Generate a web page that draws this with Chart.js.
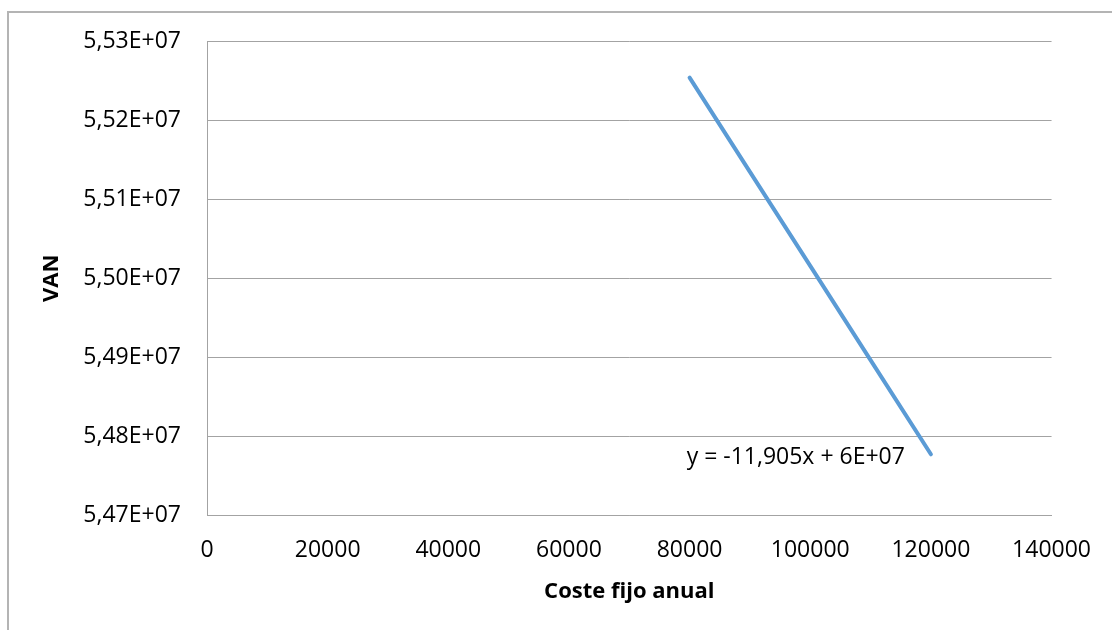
<!DOCTYPE html>
<html>
<head>
<meta charset="utf-8">
<script src="https://cdn.jsdelivr.net/npm/chart.js@4/dist/chart.umd.min.js"></script>
<style>
  html, body { margin: 0; padding: 0; background: #fff; }
  #wrap { position: relative; width: 1112px; height: 630px; overflow: hidden; }
  #frame { position: absolute; left: 7px; top: 11px; right: -10px; bottom: -10px;
           border-top: 2px solid #b4b4b4; border-left: 2px solid #b4b4b4; }
  canvas { position: absolute; left: 0; top: 0; }
</style>
</head>
<body>
<div id="wrap">
  <div id="frame"></div>
  <canvas id="chart-van" width="1112" height="630"></canvas>
</div>
<script>
/* VAN vs coste fijo anual — scatter with straight line + trend label */

// ─── DATA ─────────────────────────────────────────────
var costeFijo = [80000, 90000, 100000, 110000, 120000];
var van = [55253600, 55134600, 55015600, 54896500, 54777400];
var xTicks = [0, 20000, 40000, 60000, 80000, 100000, 120000, 140000];
var yTicks = [54700000, 54800000, 54900000, 55000000, 55100000, 55200000, 55300000];
var trendLabel = 'y = -11,905x + 6E+07';
var trendAnchor = [97600, 54774000];   // where Excel put the equation

var FONT = "'Open Sans', sans-serif";
var GRID = '#a3a3a3';

// y ticks in Excel's Spanish scientific format: 5,53E+07
function sci(v) {
  var m = Math.round(v / 1e5) / 100;
  return m.toFixed(2).replace('.', ',') + 'E+07';
}

// draws the trendline equation anchored to data coordinates
var trendLabelPlugin = {
  id: 'trendLabel',
  afterDatasetsDraw: function(chart) {
    var ctx = chart.ctx;
    var x = chart.scales.x.getPixelForValue(trendAnchor[0]);
    var y = chart.scales.y.getPixelForValue(trendAnchor[1]);
    ctx.save();
    ctx.font = '23px ' + FONT;
    ctx.fillStyle = '#000';
    ctx.textAlign = 'center';
    ctx.textBaseline = 'middle';
    ctx.fillText(trendLabel, x, y);
    ctx.restore();
  }
};

new Chart(document.getElementById('chart-van'), {
  type: 'scatter',
  data: {
    datasets: [{
      data: costeFijo.map(function(c, i) { return { x: c, y: van[i] }; }),
      showLine: true,
      borderColor: '#5b9bd5',
      borderWidth: 4,
      borderCapStyle: 'round',
      pointRadius: 0,
      pointHoverRadius: 0
    }]
  },
  options: {
    responsive: false,
    animation: false,
    layout: { padding: { left: 0, top: 41, right: 57, bottom: 0 } },
    plugins: { legend: { display: false }, tooltip: { enabled: false } },
    scales: {
      x: {
        type: 'linear',
        min: 0,
        max: 140000,
        afterBuildTicks: function(s) { s.ticks = xTicks.map(function(v) { return { value: v }; }); },
        afterFit: function(s) { s.height = 114.5; },
        grid: { display: false, drawTicks: false },
        border: { display: true, color: GRID, width: 1 },
        ticks: {
          color: '#000', padding: 21, font: { family: FONT, size: 23 }, maxRotation: 0,
          callback: function(v) { return String(v); }
        },
        title: {
          display: true, text: 'Coste fijo anual', color: '#000',
          font: { family: FONT, size: 22, weight: 'bold' },
          padding: { top: 0, bottom: 25 }
        }
      },
      y: {
        type: 'linear',
        min: 54700000,
        max: 55300000,
        afterBuildTicks: function(s) { s.ticks = yTicks.map(function(v) { return { value: v }; }); },
        afterFit: function(s) { s.width = 207; },
        grid: { display: true, color: GRID, lineWidth: 1, drawTicks: false },
        border: { display: true, color: GRID, width: 1 },
        ticks: {
          color: '#000', padding: 26, font: { family: FONT, size: 23 },
          callback: function(v) { return sci(v); }
        },
        title: {
          display: true, text: 'VAN', color: '#000',
          font: { family: FONT, size: 22, weight: 'bold' },
          padding: { top: 39, bottom: 0 }
        }
      }
    }
  },
  plugins: [trendLabelPlugin]
});
</script>
</body>
</html>
